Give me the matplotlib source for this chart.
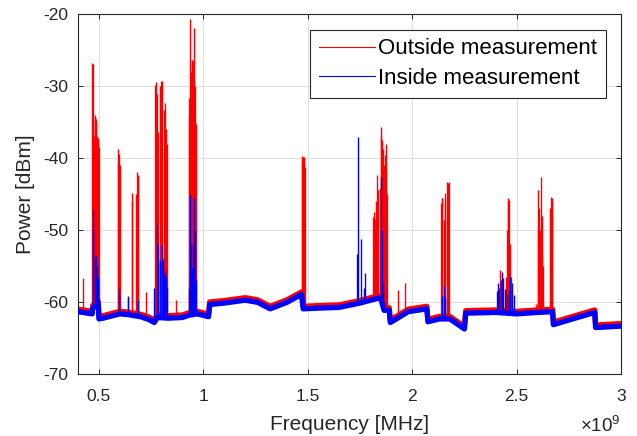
import numpy as np
import matplotlib
matplotlib.use("Agg")
import matplotlib.pyplot as plt

plt.rcParams['font.family'] = ['Liberation Sans', 'DejaVu Sans']
plt.rcParams['mathtext.fontset'] = 'custom'
plt.rcParams['mathtext.rm'] = 'Liberation Sans'
plt.rcParams['axes.unicode_minus'] = False

# noise floor knots (GHz, dBm)
floor_f = [0.400, 0.468, 0.470, 0.497, 0.500, 0.520, 0.560, 0.600, 0.640, 0.700,
           0.740, 0.765, 0.780, 0.830, 0.900, 0.930, 0.970, 1.000, 1.025, 1.030,
           1.100, 1.200, 1.260, 1.320, 1.400, 1.470, 1.478, 1.550, 1.650, 1.750,
           1.840, 1.850, 1.865, 1.890, 1.895, 1.930, 1.980, 2.070, 2.075, 2.130,
           2.180, 2.250, 2.256, 2.400, 2.500, 2.600, 2.672, 2.676, 2.780, 2.874,
           2.878, 3.000]
out_floor_p = [-61.0, -61.3, -60.5, -60.0, -62.0, -61.9, -61.6, -61.3, -61.4, -61.7,
               -62.1, -62.5, -61.8, -61.9, -61.8, -61.5, -61.3, -61.5, -61.7, -60.0,
               -59.8, -59.4, -59.7, -60.6, -59.7, -58.6, -60.6, -60.5, -60.4, -59.8,
               -59.1, -59.2, -60.8, -60.8, -62.5, -61.9, -61.0, -60.6, -62.4, -62.0,
               -62.0, -63.4, -61.2, -61.1, -61.3, -61.1, -61.0, -62.8, -61.9, -61.1,
               -63.2, -63.0]
in_floor_p = [-61.35, -61.65, -60.85, -60.35, -62.35, -62.25, -61.95, -61.65, -61.75, -62.05,
              -62.45, -62.85, -62.15, -62.25, -62.15, -61.85, -61.65, -61.85, -62.05, -60.35,
              -60.15, -59.75, -60.05, -60.95, -60.05, -58.95, -60.95, -60.85, -60.75, -60.15,
              -59.45, -59.55, -61.15, -61.15, -62.85, -62.25, -61.35, -60.95, -62.75, -62.35,
              -62.35, -63.75, -61.55, -61.45, -61.65, -61.45, -61.35, -63.15, -62.25, -61.45,
              -63.55, -63.35]

# emission peaks, outside measurement (GHz, dBm)
out_peak_f = [0.426,
              0.469, 0.471, 0.473, 0.476, 0.480, 0.483, 0.486, 0.488, 0.491, 0.494, 0.497, 0.499,
              0.589, 0.592, 0.597, 0.600,
              0.640, 0.656, 0.660, 0.679, 0.682, 0.685, 0.688, 0.727,
              0.769, 0.772, 0.778, 0.785, 0.791, 0.797, 0.804, 0.810, 0.817, 0.823, 0.826,
              0.870,
              0.929, 0.932, 0.938, 0.942, 0.945, 0.948, 0.950, 0.956, 0.959, 0.961, 0.964,
              1.471, 1.474, 1.477, 1.480, 1.484, 1.487,
              1.810, 1.817, 1.823, 1.828, 1.831, 1.837, 1.844, 1.849, 1.852, 1.857, 1.860,
              1.865, 1.868, 1.873, 1.876, 1.879,
              1.932, 1.964,
              2.138, 2.142, 2.145, 2.150, 2.155, 2.158, 2.165, 2.171, 2.178,
              2.418, 2.429, 2.450, 2.455, 2.458, 2.461, 2.464, 2.468, 2.474,
              2.591, 2.601, 2.604, 2.607, 2.610, 2.613, 2.617, 2.620, 2.623, 2.626,
              2.661, 2.664, 2.667, 2.670]
out_peak_p = [-56.7,
              -26.8, -26.9, -35.3, -37.0, -34.0, -34.3, -34.6, -35.0, -36.9, -37.2, -37.6, -38.5,
              -40.6, -38.8, -39.4, -41.0,
              -59.3, -44.9, -46.0, -45.0, -42.0, -42.3, -42.5, -58.6,
              -29.8, -29.5, -31.1, -36.4, -30.0, -29.3, -29.3, -33.4, -32.4, -36.0, -38.0,
              -59.7,
              -34.0, -31.7, -20.7, -28.0, -26.4, -26.4, -26.5, -21.9, -30.0, -37.1, -35.3,
              -40.5, -39.7, -39.8, -40.0, -39.9, -41.2,
              -48.2, -47.5, -48.5, -46.0, -42.4, -44.5, -44.2, -37.0, -35.7, -37.5, -38.7,
              -41.0, -39.6, -42.0, -38.0, -45.0,
              -58.3, -57.4,
              -46.3, -45.6, -45.6, -48.6, -46.0, -44.9, -43.4, -43.5, -43.4,
              -55.5, -57.0, -56.5, -50.0, -45.6, -46.0, -45.8, -52.0, -56.5,
              -60.3, -50.0, -44.4, -47.0, -53.0, -50.0, -42.7, -48.0, -53.2, -55.0,
              -47.0, -45.4, -46.0, -45.6]

# emission peaks, inside measurement (GHz, dBm)
in_peak_f = [0.4705, 0.473, 0.480, 0.488, 0.493, 0.496, 0.501,
             0.595, 0.598, 0.640, 0.685,
             0.765, 0.777, 0.781, 0.785, 0.793, 0.801, 0.805, 0.810, 0.817, 0.820, 0.825,
             0.929, 0.934, 0.938, 0.942, 0.946, 0.951, 0.956, 0.959, 0.964,
             1.735, 1.740, 1.754, 1.767, 1.775,
             1.849, 1.852, 1.855, 1.860,
             2.145, 2.150, 2.155,
             2.405, 2.410, 2.417, 2.423, 2.429, 2.437, 2.445, 2.453, 2.464, 2.469, 2.480, 2.487]
in_peak_p = [-47.1, -50.0, -53.7, -53.6, -55.0, -56.5, -59.5,
             -58.0, -59.0, -59.2, -59.7,
             -58.0, -49.1, -52.0, -54.6, -54.2, -52.1, -54.0, -56.0, -55.5, -56.5, -58.0,
             -58.0, -56.3, -45.2, -52.0, -55.1, -52.0, -45.5, -50.0, -57.0,
             -53.3, -37.1, -51.3, -58.0, -56.0,
             -52.0, -42.6, -50.0, -57.3,
             -59.2, -57.8, -59.5,
             -58.5, -57.4, -58.0, -57.0, -55.9, -56.7, -58.2, -59.0, -58.5, -56.5, -57.4, -59.0]

xticks = [0.5, 1, 1.5, 2, 2.5, 3]
xtick_labels = ['0.5', '1', '1.5', '2', '2.5', '3']
yticks = [-70, -60, -50, -40, -30, -20]

red = '#ff0000'
blue = '#0000ff'
axis_col = '#262626'

fig = plt.figure(figsize=(6.37, 4.36), dpi=100)
ax = fig.add_axes([0.1225, 0.1422, 0.8525, 0.8257])

# outside (red) first, inside (blue) on top
out_base = np.interp(out_peak_f, floor_f, out_floor_p)
in_base = np.interp(in_peak_f, floor_f, in_floor_p)
ax.plot(floor_f, out_floor_p, color=red, lw=3.8, solid_joinstyle='round', zorder=2)
ax.vlines(out_peak_f, out_base, out_peak_p, color=red, lw=1.0, zorder=2)
ax.plot(floor_f, in_floor_p, color=blue, lw=3.8, solid_joinstyle='round', zorder=3)
ax.vlines(in_peak_f, in_base, in_peak_p, color=blue, lw=1.0, zorder=3)

# legend handles
ax.plot([], [], color=red, lw=0.8, label='Outside measurement')
ax.plot([], [], color=blue, lw=0.8, label='Inside measurement')

ax.set_xlim(0.4, 3.0)
ax.set_ylim(-70, -20)
ax.set_xticks(xticks)
ax.set_xticklabels(xtick_labels)
ax.set_yticks(yticks)
ax.grid(True, color='#dedede', lw=0.7, zorder=0)
ax.set_axisbelow(True)
ax.tick_params(direction='in', length=3.5, width=0.7, colors=axis_col, labelsize=12.5,
               top=True, right=True)
ax.tick_params(axis='x', pad=11)
ax.tick_params(axis='y', pad=7)
for s in ax.spines.values():
    s.set_color(axis_col)
    s.set_linewidth(0.8)

ax.set_xlabel('Frequency [MHz]', fontsize=15, color=axis_col, labelpad=8)
ax.set_ylabel('Power [dBm]', fontsize=15, color=axis_col, labelpad=6)
ax.text(1.0, -0.161, r'$\times10^{9}$', transform=ax.transAxes, ha='right', va='baseline',
        fontsize=13.5, color=axis_col)

leg = ax.legend(loc='upper right', fontsize=16, frameon=True, fancybox=False,
                edgecolor=axis_col, framealpha=1, borderaxespad=0.7, borderpad=0.4,
                handlelength=2.55, handletextpad=0.1, labelspacing=0.38)
leg.get_frame().set_linewidth(0.8)

fig.savefig('out.png', dpi=100)
